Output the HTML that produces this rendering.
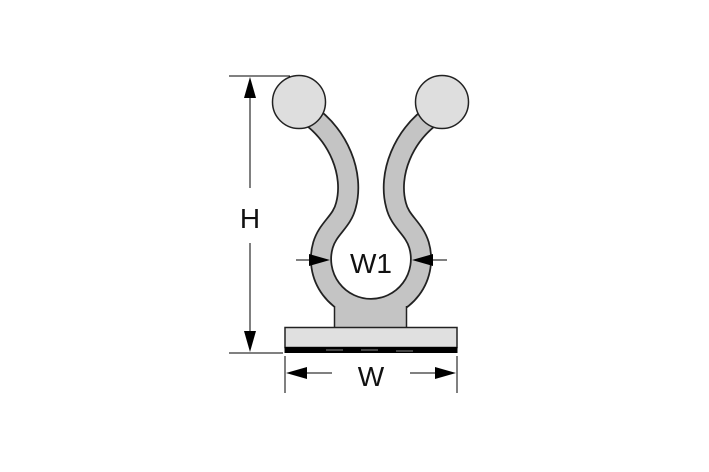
<!DOCTYPE html>
<html><head><style>html,body{margin:0;padding:0;background:#fff;}svg{display:block}</style></head>
<body>
<svg width="709" height="472" viewBox="0 0 709 472" xmlns="http://www.w3.org/2000/svg">
<!-- arms + ring -->
<path d="M305,112 C340,135 354,175 346,205 C342,222 328,228 323,245 A50 50 0 1 0 419,245 C414,228 400,222 396,205 C388,175 402,135 437,112" fill="none" stroke="#222" stroke-width="22" stroke-linejoin="round"/>
<path d="M305,112 C340,135 354,175 346,205 C342,222 328,228 323,245 A50 50 0 1 0 419,245 C414,228 400,222 396,205 C388,175 402,135 437,112" fill="none" stroke="#c4c4c4" stroke-width="18.5" stroke-linejoin="round"/>
<!-- stem -->
<rect x="334.5" y="300" width="72" height="29" fill="#c4c4c4"/>
<line x1="334.5" y1="306" x2="334.5" y2="328" stroke="#222" stroke-width="1.5"/>
<line x1="406.5" y1="306" x2="406.5" y2="328" stroke="#222" stroke-width="1.5"/>
<!-- balls -->
<circle cx="299" cy="102" r="26.5" fill="#dedede" stroke="#222" stroke-width="1.5"/>
<circle cx="442" cy="102" r="26.5" fill="#dedede" stroke="#222" stroke-width="1.5"/>
<!-- plate -->
<rect x="285" y="327.5" width="172" height="20" fill="#e0e0e0" stroke="#222" stroke-width="1.5"/>
<rect x="284.5" y="347" width="173" height="6" fill="#000"/>
<g stroke="#888" stroke-width="1"><line x1="326" y1="350" x2="343" y2="350"/><line x1="361" y1="350" x2="378" y2="350"/><line x1="396" y1="351" x2="413" y2="351"/></g>
<!-- dimensions -->
<g stroke="#000" stroke-width="1">
<line x1="229" y1="76" x2="290" y2="76"/>
<line x1="229" y1="353" x2="283" y2="353"/>
<line x1="250" y1="96" x2="250" y2="188"/>
<line x1="250" y1="243" x2="250" y2="333"/>
<line x1="285" y1="356" x2="285" y2="393"/>
<line x1="457" y1="356" x2="457" y2="393"/>
<line x1="295" y1="373" x2="332" y2="373"/>
<line x1="410" y1="373" x2="447" y2="373"/>
<line x1="296" y1="260" x2="312" y2="260"/>
<line x1="430" y1="260" x2="447" y2="260"/>
</g>
<polygon points="250,77 244,98 256,98" fill="#000"/>
<polygon points="250,352 244,331 256,331" fill="#000"/>
<polygon points="286,373 307,367 307,379" fill="#000"/>
<polygon points="456,373 435,367 435,379" fill="#000"/>
<polygon points="330,260 309,254 309,266" fill="#000"/>
<polygon points="412,260 433,254 433,266" fill="#000"/>
<g font-family="Liberation Sans, sans-serif" font-size="28" fill="#111" text-anchor="middle">
<text x="250" y="228">H</text>
<text x="371" y="273">W1</text>
<text x="371" y="386">W</text>
</g>
</svg>
</body></html>
